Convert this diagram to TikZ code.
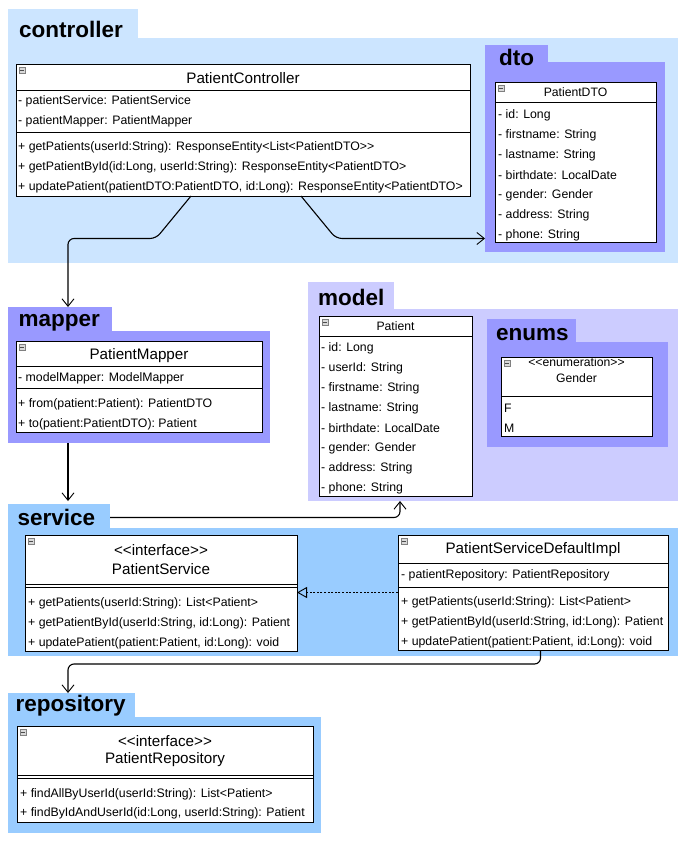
\documentclass[tikz,border=0pt]{standalone}
\usepackage{fontspec}
\setmainfont{Liberation Sans}
\newfontfamily\umlfont{Liberation Sans}
\usetikzlibrary{arrows.meta,calc}
\definecolor{ctrlc}{HTML}{CCE5FF}
\definecolor{purplec}{HTML}{9999FF}
\definecolor{modelc}{HTML}{CCCCFF}
\definecolor{svcc}{HTML}{99CCFF}
\tikzset{
  pkg/.style={fill=#1, draw=none, inner sep=0pt, outer sep=0pt, anchor=north west},
  cls/.style={draw=black, line width=0.8pt, fill=white, inner sep=0pt, outer sep=0pt, anchor=north west},
  attr/.style={anchor=west, inner sep=0pt, font=\umlfont\fontsize{12.3}{14}\selectfont},
  ttl/.style={anchor=center, inner sep=0pt, font=\umlfont\fontsize{15.2}{17}\selectfont},
  sttl/.style={anchor=center, inner sep=0pt, font=\umlfont\fontsize{12.2}{14}\selectfont},
  plabel/.style={anchor=base west, inner sep=0pt, font=\umlfont\bfseries\fontsize{22.5}{26}\selectfont},
  conn/.style={draw=black, line width=1.1pt, -{Straight Barb[length=7.5pt,width=12pt,line width=0.9pt]}, rounded corners=6pt},
  real/.style={draw=black, line width=0.9pt, dash pattern=on 2pt off 1.6pt, -{Triangle[open,length=10pt,width=11pt]}},
  sepline/.style={draw=black, line width=0.8pt},
  icon/.style={draw=gray, fill=gray!30, line width=0.5pt, minimum size=6pt, inner sep=0pt, outer sep=0pt, anchor=north west,
    path picture={\draw[gray!60!black, line width=0.6pt] ([xshift=1.2pt]path picture bounding box.west) -- ([xshift=-1.2pt]path picture bounding box.east);}}
}
\begin{document}
\begin{tikzpicture}[x=1pt,y=-1pt]
\useasboundingbox[fill=white] (0,0) rectangle (690,843);

% ---------- packages ----------
\node[pkg=ctrlc, minimum width=130pt, minimum height=29pt] (ctrltab) at (8,9) {};
\node[pkg=ctrlc, minimum width=670pt, minimum height=225pt] (ctrlbody) at (8,38) {};
\node[plabel] (ctrllbl) at (19,37.5) {controller};

\node[pkg=purplec, minimum width=63pt, minimum height=17pt] (dtotab) at (485,45) {};
\node[pkg=purplec, minimum width=180pt, minimum height=190pt] (dtobody) at (485,62) {};
\node[plabel] (dtolbl) at (499,65.5) {dto};

\node[pkg=purplec, minimum width=104pt, minimum height=24pt] (maptab) at (8,307) {};
\node[pkg=purplec, minimum width=262pt, minimum height=112pt] (mapbody) at (8,331) {};
\node[plabel] (maplbl) at (18.5,326.5) {mapper};

\node[pkg=modelc, minimum width=86pt, minimum height=27pt] (modtab) at (308,282) {};
\node[pkg=modelc, minimum width=370pt, minimum height=192pt] (modbody) at (308,309) {};
\node[plabel] (modlbl) at (318,305) {model};

\node[pkg=purplec, minimum width=89pt, minimum height=23pt] (enutab) at (487,319) {};
\node[pkg=purplec, minimum width=181pt, minimum height=105pt] (enubody) at (487,342) {};
\node[plabel] (enulbl) at (496,340.5) {enums};

\node[pkg=svcc, minimum width=102pt, minimum height=24pt] (svctab) at (8,504) {};
\node[pkg=svcc, minimum width=670pt, minimum height=128pt] (svcbody) at (8,528) {};
\node[plabel] (svclbl) at (17.5,525) {service};

\node[pkg=svcc, minimum width=127pt, minimum height=24pt] (repotab) at (8,693) {};
\node[pkg=svcc, minimum width=313pt, minimum height=116pt] (repobody) at (8,717) {};
\node[plabel] (repolbl) at (15.5,711.5) {repository};

% ---------- PatientController ----------
\node[cls, minimum width=454pt, minimum height=132pt] (ctrl) at (16,64) {};
\node[icon] (ctrlicon) at (19,67) {};
\draw[sepline] (16,90) -- (470,90);
\draw[sepline] (16,132) -- (470,132);
\node[ttl] (ctrlttl) at (243,78.5) {PatientController};
\node[attr] (ctrla1) at (18,101.5) {- patientService: PatientService};
\node[attr] (ctrla2) at (18,121.5) {- patientMapper: PatientMapper};
\node[attr] (ctrlm1) at (18,147.5) {+ getPatients(userId:String): ResponseEntity<List<PatientDTO>>};
\node[attr] (ctrlm2) at (18,167.5) {+ getPatientById(id:Long, userId:String): ResponseEntity<PatientDTO>};
\node[attr] (ctrlm3) at (18,187.5) {+ updatePatient(patientDTO:PatientDTO, id:Long): ResponseEntity<PatientDTO>};

% ---------- PatientDTO ----------
\node[cls, minimum width=161pt, minimum height=160pt] (dto) at (495,82) {};
\node[icon] (dtoicon) at (498,85) {};
\draw[sepline] (495,102) -- (656,102);
\node[sttl] (dtottl) at (575.5,92.5) {PatientDTO};
\node[attr] (dtoa1) at (498,115) {- id: Long};
\node[attr] (dtoa2) at (498,135) {- firstname: String};
\node[attr] (dtoa3) at (498,155) {- lastname: String};
\node[attr] (dtoa4) at (498,175) {- birthdate: LocalDate};
\node[attr] (dtoa5) at (498,195) {- gender: Gender};
\node[attr] (dtoa6) at (498,215) {- address: String};
\node[attr] (dtoa7) at (498,235) {- phone: String};

% ---------- PatientMapper ----------
\node[cls, minimum width=246pt, minimum height=91pt] (map) at (16,341) {};
\node[icon] (mapicon) at (19,344) {};
\draw[sepline] (16,366) -- (262,366);
\draw[sepline] (16,388) -- (262,388);
\node[ttl] (mapttl) at (139,356) {PatientMapper};
\node[attr] (mapa1) at (18,378) {- modelMapper: ModelMapper};
\node[attr] (mapm1) at (18,404) {+ from(patient:Patient): PatientDTO};
\node[attr] (mapm2) at (18,424) {+ to(patient:PatientDTO): Patient};

% ---------- Patient ----------
\node[cls, minimum width=153pt, minimum height=180pt] (pat) at (319,316) {};
\node[icon] (paticon) at (322,319) {};
\draw[sepline] (319,336) -- (472,336);
\node[sttl] (patttl) at (395.5,326.5) {Patient};
\node[attr] (pata1) at (321,348) {- id: Long};
\node[attr] (pata2) at (321,368) {- userId: String};
\node[attr] (pata3) at (321,388) {- firstname: String};
\node[attr] (pata4) at (321,408) {- lastname: String};
\node[attr] (pata5) at (321,428) {- birthdate: LocalDate};
\node[attr] (pata6) at (321,448) {- gender: Gender};
\node[attr] (pata7) at (321,468) {- address: String};
\node[attr] (pata8) at (321,488) {- phone: String};

% ---------- Gender ----------
\node[cls, minimum width=151pt, minimum height=79pt] (gen) at (501,357) {};
\node[icon] (genicon) at (504,360) {};
\draw[sepline] (501,396) -- (652,396);
\node[sttl] (genst) at (576.5,362) {<<enumeration>>};
\node[sttl] (genttl) at (576.5,378) {Gender};
\node[attr] (genf) at (504,408) {F};
\node[attr] (genm) at (504,428) {M};

% ---------- PatientService ----------
\node[cls, minimum width=272pt, minimum height=116pt] (psvc) at (25,535) {};
\node[icon] (psvcicon) at (28,538) {};
\draw[sepline] (25,584) -- (297,584);
\draw[sepline] (25,587.5) -- (297,587.5);
\node[ttl] (psvcst) at (161,550) {<<interface>>};
\node[ttl] (psvcttl) at (161,569) {PatientService};
\node[attr] (psvcm1) at (28,603) {+ getPatients(userId:String): List<Patient>};
\node[attr] (psvcm2) at (28,623) {+ getPatientById(userId:String, id:Long): Patient};
\node[attr] (psvcm3) at (28,643) {+ updatePatient(patient:Patient, id:Long): void};

% ---------- PatientServiceDefaultImpl ----------
\node[cls, minimum width=270pt, minimum height=115pt] (impl) at (398,535) {};
\node[icon] (implicon) at (401,538) {};
\draw[sepline] (398,563) -- (668,563);
\draw[sepline] (398,587) -- (668,587);
\node[ttl] (implttl) at (533,550) {PatientServiceDefaultImpl};
\node[attr] (impla1) at (401,575.5) {- patientRepository: PatientRepository};
\node[attr] (implm1) at (401,602) {+ getPatients(userId:String): List<Patient>};
\node[attr] (implm2) at (401,622) {+ getPatientById(userId:String, id:Long): Patient};
\node[attr] (implm3) at (401,642) {+ updatePatient(patient:Patient, id:Long): void};

% ---------- PatientRepository ----------
\node[cls, minimum width=296pt, minimum height=96pt] (repo) at (17,726) {};
\node[icon] (repoicon) at (20,729) {};
\draw[sepline] (17,775) -- (313,775);
\draw[sepline] (17,778.5) -- (313,778.5);
\node[ttl] (repost) at (165,741) {<<interface>>};
\node[ttl] (repottl) at (165,759.5) {PatientRepository};
\node[attr] (repom1) at (20,794) {+ findAllByUserId(userId:String): List<Patient>};
\node[attr] (repom2) at (20,813.5) {+ findByIdAndUserId(id:Long, userId:String): Patient};

% ---------- connectors ----------
\coordinate (b1) at (156,238.5);
\coordinate (b2) at (68,238.5);
\coordinate (b3) at (336,238.5);
\coordinate (b4) at (400,517.5);
\coordinate (b5) at (540.5,664);
\coordinate (b6) at (68,664);

\draw[conn] ([xshift=175pt]ctrl.south west) -- (b1) -- (b2) -- ([xshift=60pt]maptab.north west);
\draw[conn] ([xshift=285pt]ctrl.south west) -- (b3) -- (dtobody.west |- b3);
\draw[conn] ([xshift=60pt]mapbody.south west) -- ([xshift=60pt,yshift=3pt]svctab.north west);
\draw[conn] (svctab.east |- b4) -- (b4) -- (b4 |- modbody.south);
\draw[conn] (impl.south -| b5) -- (b5) -- (b6) -- (b6 |- repotab.north);
\draw[real] (impl.west) -- (impl.west -| psvc.east);
\end{tikzpicture}
\end{document}
